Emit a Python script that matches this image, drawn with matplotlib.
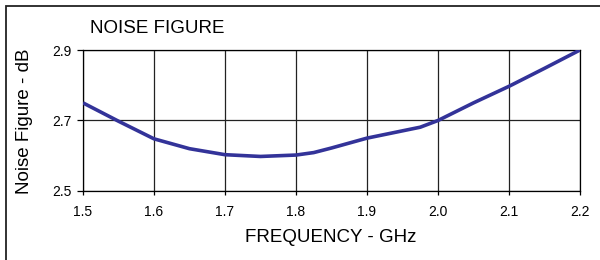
import matplotlib
matplotlib.use('Agg')
import matplotlib.pyplot as plt
from matplotlib.patches import Rectangle

# Data
freq = [1.5, 1.55, 1.6, 1.65, 1.7, 1.75, 1.8, 1.825, 1.85, 1.9, 1.975, 2.0, 2.05, 2.1, 2.15, 2.2]
noise_fig = [2.75, 2.698, 2.648, 2.62, 2.603, 2.598, 2.602, 2.609, 2.622, 2.65, 2.681, 2.70, 2.75, 2.797, 2.848, 2.90]
x_ticks = [1.5, 1.6, 1.7, 1.8, 1.9, 2.0, 2.1, 2.2]
x_labels = ['1.5', '1.6', '1.7', '1.8', '1.9', '2.0', '2.1', '2.2']
y_ticks = [2.5, 2.7, 2.9]

plt.rcParams['font.family'] = ['Liberation Sans', 'DejaVu Sans']

fig = plt.figure(figsize=(6, 2.6), dpi=100)
ax = fig.add_axes([83 / 600, 1 - 191 / 260, 497 / 600, 141 / 260])

# Grid and curve
ax.grid(True, color='#222222', linewidth=0.9)
ax.plot(freq, noise_fig, color='#333399', linewidth=2.6, solid_capstyle='butt', zorder=3)

ax.set_xlim(1.5, 2.2)
ax.set_ylim(2.5, 2.9)
ax.set_xticks(x_ticks)
ax.set_xticklabels(x_labels)
ax.set_yticks(y_ticks)
ax.tick_params(axis='x', direction='out', length=3, width=0.9, pad=7, labelsize=10)
ax.tick_params(axis='y', direction='out', length=4, width=0.9, pad=4, labelsize=10)
for s in ax.spines.values():
    s.set_color('black')
    s.set_linewidth(0.9)

# Labels and title
fig.text(90 / 600, 1 - 28 / 260, 'NOISE FIGURE', fontsize=13.5, ha='left', va='center')
fig.text(331 / 600, 1 - 238 / 260, 'FREQUENCY - GHz', fontsize=13.5, ha='center', va='center')
fig.text(25 / 600, 1 - 121 / 260, 'Noise Figure - dB', fontsize=13.5, ha='center', va='center',
         rotation=90)

# Outer frame around the figure
fig.patches.append(Rectangle((5.5 / 600, -0.2), 1.2, 1.2 - 5.5 / 260, transform=fig.transFigure,
                             fill=False, edgecolor='#222222', linewidth=1.3))

fig.savefig('out.png', dpi=100)
